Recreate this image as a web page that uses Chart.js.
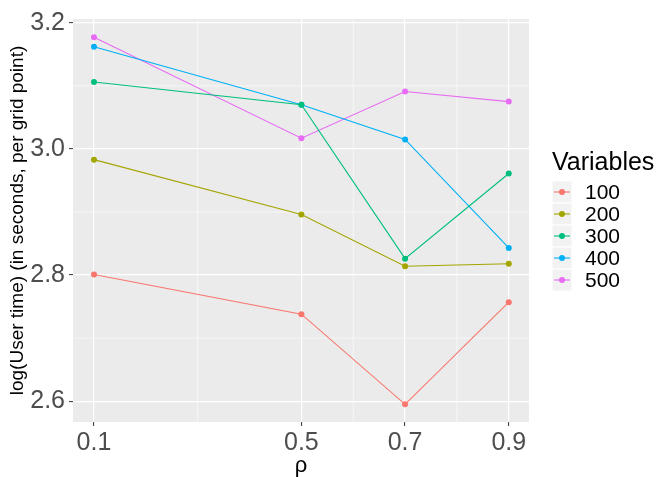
<!DOCTYPE html>
<html>
<head>
<meta charset="utf-8">
<script src="https://cdn.jsdelivr.net/npm/chart.js@4"></script>
<style>
  html, body { margin: 0; padding: 0; background: #fff; }
  #wrap { width: 657px; height: 477px; }
</style>
</head>
<body>
<div id="wrap"><canvas id="chart" width="657" height="477"></canvas></div>
<script>
// --- datos ---
const rho = [0.1, 0.5, 0.7, 0.9];
const seriesNames = ['100', '200', '300', '400', '500'];
const v100 = [2.801, 2.738, 2.595, 2.757];
const v200 = [2.983, 2.896, 2.814, 2.818];
const v300 = [3.106, 3.070, 2.826, 2.961];
const v400 = [3.162, 3.070, 3.015, 2.843];
const v500 = [3.177, 3.017, 3.091, 3.075];
const seriesColors = ['#F8766D', '#A3A500', '#00BF7D', '#00B0F6', '#E76BF3'];
const xTicks = [0.1, 0.5, 0.7, 0.9];
const yTicks = [2.6, 2.8, 3.0, 3.2];
const xMinor = [0.3, 0.6, 0.8];
const yMinor = [2.7, 2.9, 3.1];

const FONT = "'Liberation Sans', Arial, sans-serif";
const allValues = [v100, v200, v300, v400, v500];

const datasets = allValues.map((vals, i) => ({
    label: seriesNames[i],
    data: rho.map((x, j) => ({ x: x, y: vals[j] })),
    borderColor: seriesColors[i],
    backgroundColor: seriesColors[i],
    borderWidth: 1.1,
    pointRadius: 3,
    pointBorderWidth: 0,
    pointHoverRadius: 3,
    tension: 0
}));

// fondo gris del panel + líneas secundarias (estilo ggplot)
const panelPlugin = {
    id: 'panel',
    beforeDraw(chart) {
        const { ctx, chartArea: a, scales } = chart;
        ctx.save();
        ctx.fillStyle = '#EBEBEB';
        ctx.fillRect(a.left, a.top, a.right - a.left, a.bottom - a.top);
        ctx.strokeStyle = '#FFFFFF';
        ctx.lineWidth = 0.6;
        xMinor.forEach(v => {
            const px = scales.x.getPixelForValue(v);
            ctx.beginPath(); ctx.moveTo(px, a.top); ctx.lineTo(px, a.bottom); ctx.stroke();
        });
        yMinor.forEach(v => {
            const py = scales.y.getPixelForValue(v);
            ctx.beginPath(); ctx.moveTo(a.left, py); ctx.lineTo(a.right, py); ctx.stroke();
        });
        ctx.restore();
    }
};

// leyenda a la derecha
const legendPlugin = {
    id: 'ggLegend',
    afterDraw(chart) {
        const ctx = chart.ctx;
        const x0 = 552, keyW = 20, keyH = 22, top = 181;
        ctx.save();
        ctx.fillStyle = '#000';
        ctx.font = '25px ' + FONT;
        ctx.textBaseline = 'middle';
        ctx.textAlign = 'left';
        ctx.fillText('Variables', x0, 163);
        seriesNames.forEach((name, i) => {
            const y = top + i * keyH;
            ctx.fillStyle = '#F2F2F2';
            ctx.fillRect(x0, y, keyW, keyH);
            ctx.strokeStyle = '#FFFFFF';
            ctx.lineWidth = 1;
            ctx.strokeRect(x0, y, keyW, keyH);
            const cy = y + keyH / 2;
            ctx.strokeStyle = seriesColors[i];
            ctx.lineWidth = 1.1;
            ctx.beginPath(); ctx.moveTo(x0 + 2, cy); ctx.lineTo(x0 + keyW - 2, cy); ctx.stroke();
            ctx.fillStyle = seriesColors[i];
            ctx.beginPath(); ctx.arc(x0 + keyW / 2, cy, 3, 0, Math.PI * 2); ctx.fill();
            ctx.fillStyle = '#000';
            ctx.font = '21px ' + FONT;
            ctx.fillText(name, 585, cy + 1);
        });
        ctx.restore();
    }
};

new Chart(document.getElementById('chart'), {
    type: 'line',
    data: { datasets: datasets },
    plugins: [panelPlugin, legendPlugin],
    options: {
        responsive: false,
        animation: false,
        layout: { padding: { top: 12, right: 128, bottom: 0, left: 0 } },
        plugins: { legend: { display: false }, tooltip: { enabled: false } },
        scales: {
            x: {
                type: 'linear',
                min: 0.0595,
                max: 0.939,
                afterBuildTicks: s => { s.ticks = xTicks.map(v => ({ value: v })); },
                afterFit: s => { s.height = 55; },
                border: { display: false },
                grid: { color: '#FFFFFF', lineWidth: 1.2, tickColor: '#333333', tickLength: 4, tickWidth: 1 },
                ticks: {
                    color: '#4D4D4D', font: { family: FONT, size: 25 }, padding: 2,
                    maxRotation: 0, autoSkip: false,
                    callback: v => v.toFixed(1)
                },
                title: { display: true, text: 'ρ', color: '#000', font: { family: FONT, size: 22, lineHeight: 1 }, padding: { top: 0, bottom: 0 } }
            },
            y: {
                min: 2.567,
                max: 3.206,
                afterBuildTicks: s => { s.ticks = yTicks.map(v => ({ value: v })); },
                afterFit: s => { s.width = 73; },
                border: { display: false },
                grid: { color: '#FFFFFF', lineWidth: 1.2, tickColor: '#333333', tickLength: 4, tickWidth: 1 },
                ticks: {
                    color: '#4D4D4D', font: { family: FONT, size: 25 }, padding: 4,
                    autoSkip: false,
                    callback: v => v.toFixed(1)
                },
                title: { display: true, text: 'log(User time) (in seconds, per grid point)', color: '#000', font: { family: FONT, size: 19, lineHeight: 1 }, padding: { top: 8.5, bottom: 0 } }
            }
        }
    }
});
</script>
</body>
</html>
